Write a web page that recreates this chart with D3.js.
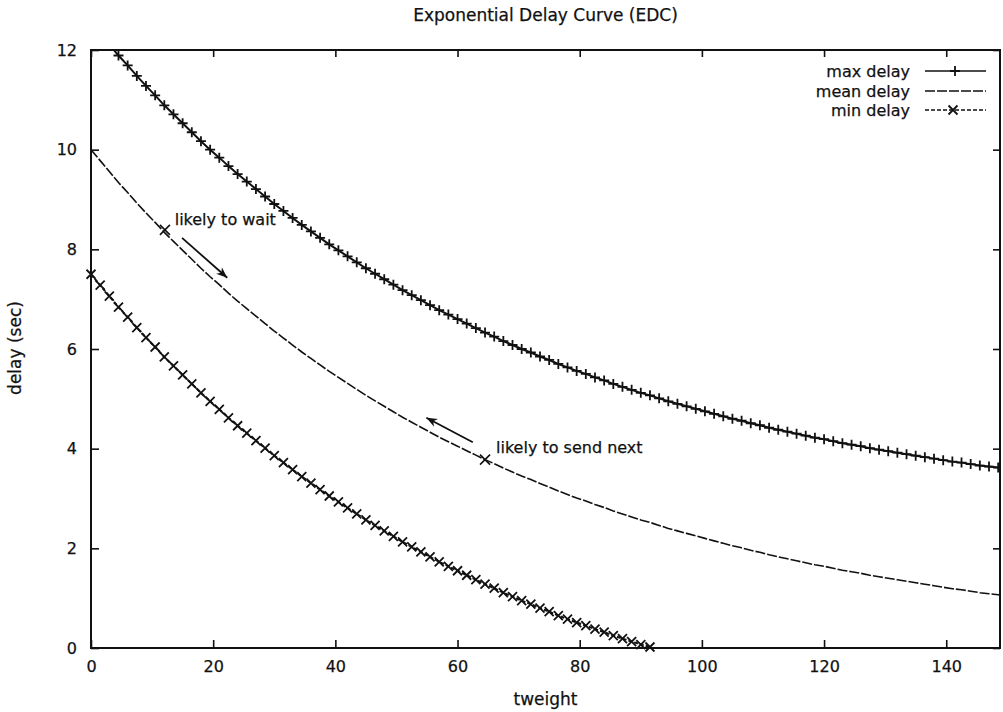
<!DOCTYPE html>
<html><head><meta charset="utf-8">
<script src="https://cdn.jsdelivr.net/npm/d3@7/dist/d3.min.js"></script>
<style>
body{margin:0;background:#fff;}
svg text{font-family:"DejaVu Sans",sans-serif;fill:#111;stroke:#111;stroke-width:0.25px;}
</style></head>
<body>
<svg id="chart" width="1003" height="712"></svg>
<script>
// ---- data ----
const tweight = [
  0,1.5,3,4.5,6,7.5,9,10.5,12,13.5,
  15,16.5,18,19.5,21,22.5,24,25.5,27,28.5,
  30,31.5,33,34.5,36,37.5,39,40.5,42,43.5,
  45,46.5,48,49.5,51,52.5,54,55.5,57,58.5,
  60,61.5,63,64.5,66,67.5,69,70.5,72,73.5,
  75,76.5,78,79.5,81,82.5,84,85.5,87,88.5,
  90,91.5,93,94.5,96,97.5,99,100.5,102,103.5,
  105,106.5,108,109.5,111,112.5,114,115.5,117,118.5,
  120,121.5,123,124.5,126,127.5,129,130.5,132,133.5,
  135,136.5,138,139.5,141,142.5,144,145.5,147,148.5,
  150];
const maxDelay = [
  12.55,12.33,12.11,11.89,11.69,11.48,11.28,11.09,10.89,10.71,
  10.53,10.35,10.17,10.00,9.84,9.67,9.51,9.36,9.21,9.06,
  8.91,8.77,8.63,8.49,8.36,8.23,8.10,7.98,7.86,7.74,
  7.62,7.51,7.40,7.29,7.18,7.08,6.98,6.88,6.78,6.69,
  6.60,6.51,6.42,6.33,6.25,6.16,6.08,6.00,5.93,5.85,
  5.78,5.70,5.63,5.56,5.50,5.43,5.37,5.30,5.24,5.18,
  5.12,5.07,5.01,4.95,4.90,4.85,4.80,4.75,4.70,4.65,
  4.60,4.56,4.51,4.47,4.42,4.38,4.34,4.30,4.26,4.22,
  4.19,4.15,4.11,4.08,4.05,4.01,3.98,3.95,3.92,3.89,
  3.86,3.83,3.80,3.77,3.74,3.72,3.69,3.66,3.64,3.62,
  3.59];
const meanDelay = [
  10.00,9.78,9.56,9.34,9.14,8.93,8.73,8.54,8.34,8.16,
  7.98,7.80,7.62,7.45,7.29,7.12,6.96,6.81,6.66,6.51,
  6.36,6.22,6.08,5.94,5.81,5.68,5.55,5.43,5.31,5.19,
  5.07,4.96,4.85,4.74,4.63,4.53,4.43,4.33,4.23,4.14,
  4.05,3.96,3.87,3.78,3.70,3.61,3.53,3.45,3.38,3.30,
  3.23,3.15,3.08,3.01,2.95,2.88,2.82,2.75,2.69,2.63,
  2.57,2.52,2.46,2.40,2.35,2.30,2.25,2.20,2.15,2.10,
  2.05,2.01,1.96,1.92,1.87,1.83,1.79,1.75,1.71,1.67,
  1.64,1.60,1.56,1.53,1.50,1.46,1.43,1.40,1.37,1.34,
  1.31,1.28,1.25,1.22,1.19,1.17,1.14,1.11,1.09,1.07,
  1.04];
const minDelay = [
  7.50,7.28,7.06,6.84,6.64,6.43,6.23,6.04,5.84,5.66,
  5.48,5.30,5.12,4.95,4.79,4.62,4.46,4.31,4.16,4.01,
  3.86,3.72,3.58,3.44,3.31,3.18,3.05,2.93,2.81,2.69,
  2.57,2.46,2.35,2.24,2.13,2.03,1.93,1.83,1.73,1.64,
  1.55,1.46,1.37,1.28,1.20,1.11,1.03,0.95,0.88,0.80,
  0.73,0.65,0.58,0.51,0.45,0.38,0.32,0.25,0.19,0.13,
  0.07,0.02];
const xTicks = [0,20,40,60,80,100,120,140];
const yTicks = [0,2,4,6,8,10,12];
const seriesNames = ["max delay","mean delay","min delay"];
const labelTexts = ["likely to wait","likely to send next"];
const labelX = [13.7, 66.3];
const labelY = [8.49, 3.91];
const labelPointX = [12.1, 64.5];
const labelPointY = [8.39, 3.78];
const arrowFromX = [14.9, 62.5], arrowFromY = [8.23, 4.13];
const arrowToX = [22.3, 54.9],  arrowToY = [7.43, 4.62];

// ---- chart ----
const svg = d3.select("#chart");
const L = 91, R = 1000, T = 50, B = 648;
const x = d3.scaleLinear().domain([0,148.8]).range([L,R]);
const y = d3.scaleLinear().domain([0,12]).range([B,T]);

svg.append("defs").append("clipPath").attr("id","clip")
  .append("rect").attr("x",L).attr("y",T).attr("width",R-L).attr("height",B-T);
const mk = svg.select("defs").append("marker").attr("id","ah")
  .attr("viewBox","0 0 10 10").attr("refX",10).attr("refY",5)
  .attr("markerWidth",11).attr("markerHeight",11).attr("markerUnits","userSpaceOnUse")
  .attr("orient","auto");
mk.append("path").attr("d","M0,1 L10,5 L0,9 L3,5 Z").attr("fill","#111");

// axes
const gx = svg.append("g").attr("transform",`translate(0,${B})`)
  .call(d3.axisBottom(x).tickValues(xTicks).tickSize(-8).tickPadding(13));
const gxt = svg.append("g").attr("transform",`translate(0,${T})`)
  .call(d3.axisTop(x).tickValues(xTicks).tickSize(-7).tickFormat(""));
const gy = svg.append("g").attr("transform",`translate(${L},0)`)
  .call(d3.axisLeft(y).tickValues(yTicks).tickSize(-8).tickPadding(14));
const gyr = svg.append("g").attr("transform",`translate(${R},0)`)
  .call(d3.axisRight(y).tickValues(yTicks).tickSize(-7).tickFormat(""));
[gx,gxt,gy,gyr].forEach(g=>{
  g.select(".domain").remove();
  g.selectAll(".tick line").attr("stroke","#111").attr("stroke-width",1.6);
  g.selectAll(".tick text").attr("font-size",16).attr("font-family","DejaVu Sans").attr("fill","#111");
});
svg.append("rect").attr("x",L).attr("y",T).attr("width",R-L).attr("height",B-T)
  .attr("fill","none").attr("stroke","#111").attr("stroke-width",2);

// titles
svg.append("text").attr("x",(L+R)/2).attr("y",21).attr("text-anchor","middle")
  .attr("font-size",17).text("Exponential Delay Curve (EDC)");
svg.append("text").attr("x",(L+R)/2).attr("y",705).attr("text-anchor","middle")
  .attr("font-size",17).text("tweight");
svg.append("text").attr("transform","translate(21,348) rotate(-90)").attr("text-anchor","middle")
  .attr("font-size",17).text("delay (sec)");

const plot = svg.append("g").attr("clip-path","url(#clip)");
const line = d3.line().x(d=>x(d[0])).y(d=>y(d[1]));
const maxPts = tweight.map((t,i)=>[t,maxDelay[i]]);
const meanPts = tweight.map((t,i)=>[t,meanDelay[i]]);
const minPts = minDelay.map((v,i)=>[tweight[i],v]);

function plus(g, px, py, s){
  g.append("path").attr("d",`M${px-s},${py}H${px+s}M${px},${py-s}V${py+s}`)
   .attr("stroke","#111").attr("stroke-width",1.8).attr("fill","none");
}
function cross(g, px, py, s, w){
  g.append("path").attr("d",`M${px-s},${py-s}L${px+s},${py+s}M${px-s},${py+s}L${px+s},${py-s}`)
   .attr("stroke","#111").attr("stroke-width",w||1.8).attr("fill","none");
}

plot.append("path").datum(maxPts).attr("d",line).attr("fill","none")
  .attr("stroke","#111").attr("stroke-width",2);
maxPts.filter(d=>d[1]<=12).forEach(d=>plus(plot,x(d[0]),y(d[1]),5));

plot.append("path").datum(meanPts).attr("d",line).attr("fill","none")
  .attr("stroke","#111").attr("stroke-width",1.6).attr("stroke-dasharray","10,2");

plot.append("path").datum(minPts).attr("d",line).attr("fill","none")
  .attr("stroke","#111").attr("stroke-width",2).attr("stroke-dasharray","4,2");
minPts.forEach(d=>cross(svg,x(d[0]),y(d[1]),4.5));

// annotations
labelTexts.forEach((t,i)=>{
  svg.append("text").attr("x",x(labelX[i])).attr("y",y(labelY[i]))
    .attr("font-size",16).text(t);
  cross(svg, x(labelPointX[i]), y(labelPointY[i]), 5, 1.6);
  svg.append("line").attr("x1",x(arrowFromX[i])).attr("y1",y(arrowFromY[i]))
    .attr("x2",x(arrowToX[i])).attr("y2",y(arrowToY[i]))
    .attr("stroke","#111").attr("stroke-width",1.8).attr("marker-end","url(#ah)");
});

// legend
const legY = [71,91,110];
const leg = svg.append("g");
seriesNames.forEach((n,i)=>{
  leg.append("text").attr("x",910).attr("y",legY[i]).attr("dy","0.35em")
    .attr("text-anchor","end").attr("font-size",16).text(n);
  const ln = leg.append("line").attr("x1",925).attr("x2",986).attr("y1",legY[i]).attr("y2",legY[i])
    .attr("stroke","#111").attr("stroke-width",1.6);
  if(i===1) ln.attr("stroke-dasharray","10,2");
  if(i===2) ln.attr("stroke-dasharray","4,2");
});
plus(leg,955,legY[0],5);
cross(leg,953,legY[2],4.5);
</script>
</body></html>
